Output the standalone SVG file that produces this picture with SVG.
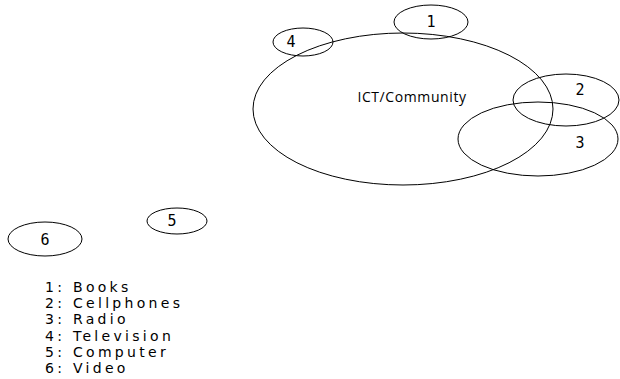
<svg xmlns="http://www.w3.org/2000/svg" width="620" height="379" viewBox="0 0 620 379">
  <style>
    .ring { fill: none; stroke: #000; stroke-width: 1; }
    .num { font-family: "DejaVu Sans Mono", "Liberation Mono", monospace; font-size: 15px; fill: #000; text-anchor: middle; }
    .title { font-family: "Open Sans", "Liberation Sans", sans-serif; font-size: 14px; fill: #000; text-anchor: middle; letter-spacing: 0.6px; }
    .legend { font-family: "DejaVu Sans", "Liberation Sans", sans-serif; font-size: 14px; fill: #000; letter-spacing: 3.3px; }
  </style>
  <rect width="620" height="379" fill="#fff"/>

  <g id="community">
    <ellipse class="ring" cx="403" cy="109" rx="150" ry="76"/>
    <text class="title" x="412" y="102">ICT/Community</text>
  </g>
  <g id="node-1">
    <ellipse class="ring" cx="431" cy="22" rx="37" ry="17"/>
    <text class="num" x="431" y="27">1</text>
  </g>
  <g id="node-4">
    <ellipse class="ring" cx="303" cy="42" rx="30" ry="14"/>
    <text class="num" x="291" y="47">4</text>
  </g>
  <g id="node-2">
    <ellipse class="ring" cx="566" cy="100" rx="53" ry="26"/>
    <text class="num" x="580" y="95">2</text>
  </g>
  <g id="node-3">
    <ellipse class="ring" cx="538" cy="139" rx="80" ry="37"/>
    <text class="num" x="580" y="148">3</text>
  </g>
  <g id="node-5">
    <ellipse class="ring" cx="177" cy="221" rx="30" ry="13"/>
    <text class="num" x="172" y="226">5</text>
  </g>
  <g id="node-6">
    <ellipse class="ring" cx="45" cy="239" rx="37" ry="17"/>
    <text class="num" x="45" y="245">6</text>
  </g>

  <g id="connectors"></g>

  <g id="legend">
    <text class="legend" x="45" y="292">1: Books</text>
    <text class="legend" x="45" y="308">2: Cellphones</text>
    <text class="legend" x="45" y="324">3: Radio</text>
    <text class="legend" x="45" y="341">4: Television</text>
    <text class="legend" x="45" y="357">5: Computer</text>
    <text class="legend" x="45" y="373">6: Video</text>
  </g>
</svg>
